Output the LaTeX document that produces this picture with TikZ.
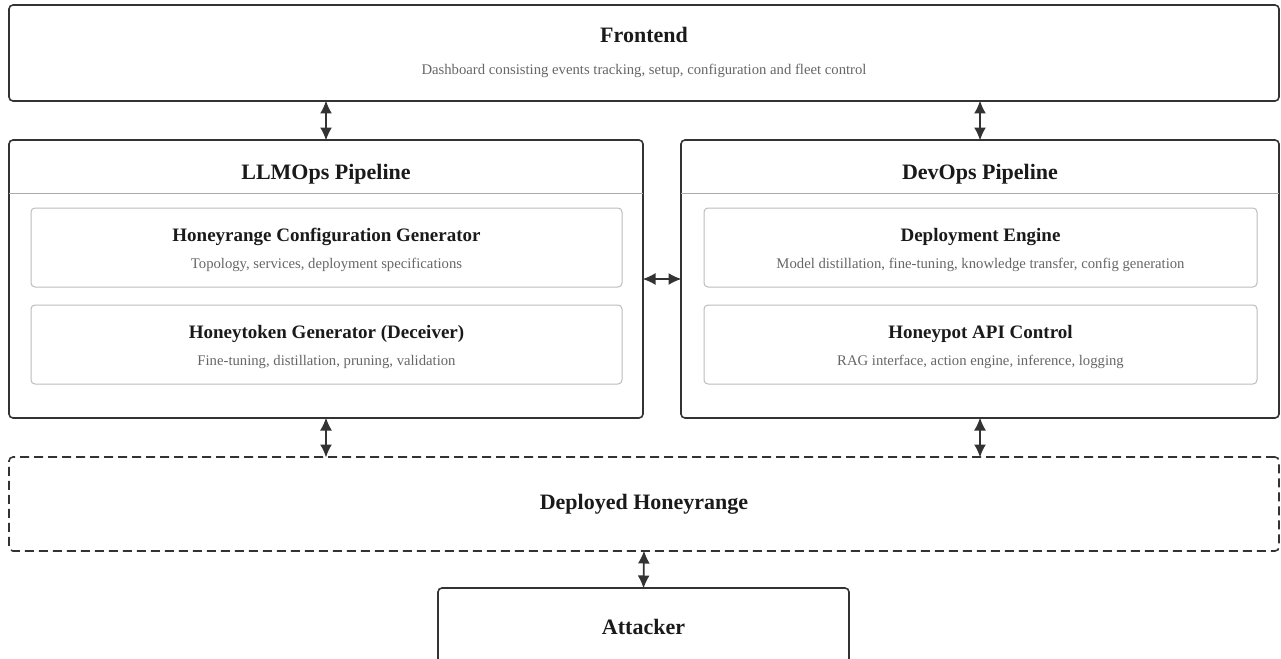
\documentclass[tikz,border=0pt]{standalone}
\usepackage{fontspec}
\setmainfont{Liberation Serif}
\usetikzlibrary{arrows.meta}
\definecolor{edge}{HTML}{333333}
\definecolor{inner}{HTML}{BBBBBB}
\definecolor{sep}{HTML}{AAAAAA}
\definecolor{ttl}{HTML}{1A1A1A}
\definecolor{sub}{HTML}{666666}
\tikzset{
  outerbox/.style={draw=edge, line width=1.6pt, rounded corners=4pt, inner sep=0pt, outer sep=0pt},
  innerbox/.style={draw=inner, line width=1pt, rounded corners=4pt, inner sep=0pt, outer sep=0pt, minimum width=591pt, minimum height=79pt},
  bigtitle/.style={font=\fontsize{22}{26}\selectfont\bfseries, text=ttl, inner sep=0pt},
  midtitle/.style={font=\fontsize{19}{23}\selectfont\bfseries, text=ttl, inner sep=0pt},
  subtext/.style={font=\fontsize{14.7}{18}\selectfont, text=sub, inner sep=0pt},
  biarrow/.style={draw=edge, line width=1.8pt, {Latex[length=13pt,width=12pt]}-{Latex[length=13pt,width=12pt]}, shorten <=-0.5pt, shorten >=-0.5pt}
}
\begin{document}
\begin{tikzpicture}[x=1pt,y=-1pt]
\useasboundingbox (0,0) rectangle (1281,658);
\begin{scope}
\clip (0,0) rectangle (1281,658);
% boxes
\node[outerbox, minimum width=1270pt, minimum height=96pt] (front) at (644,53) {};
\node[outerbox, minimum width=634pt, minimum height=278pt] (llm) at (326,279) {};
\node[outerbox, minimum width=598pt, minimum height=278pt] (dev) at (980,279) {};
\node[outerbox, dashed, dash pattern=on 9pt off 5pt, minimum width=1270pt, minimum height=94pt] (dh) at (644,504) {};
\node[outerbox, minimum width=411pt, minimum height=78pt] (att) at (643.5,627) {};
% header separators
\draw[sep, line width=1pt] (llm.west |- 0,193) -- (llm.east |- 0,193);
\draw[sep, line width=1pt] (dev.west |- 0,193) -- (dev.east |- 0,193);
% inner boxes
\node[innerbox] (hcg) at (326.5,247.5) {};
\node[innerbox] (htg) at (326.5,344.5) {};
\node[innerbox, minimum width=553pt] (de) at (980.5,247.5) {};
\node[innerbox, minimum width=553pt] (hac) at (980.5,344.5) {};
\end{scope}
% texts
\node[bigtitle] (tfront) at (644,35) {Frontend};
\node[subtext] (sfront) at (644,71) {Dashboard consisting events tracking, setup, configuration and fleet control};
\node[bigtitle] (tllm) at (326,174) {LLMOps Pipeline};
\node[bigtitle] (tdev) at (980,174) {DevOps Pipeline};
\node[midtitle] (thcg) at (326.5,237) {Honeyrange Configuration Generator};
\node[subtext] (shcg) at (326.5,265) {Topology, services, deployment specifications};
\node[midtitle] (thtg) at (326.5,334) {Honeytoken Generator (Deceiver)};
\node[subtext] (shtg) at (326.5,362) {Fine-tuning, distillation, pruning, validation};
\node[midtitle] (tde) at (980.5,237) {Deployment Engine};
\node[subtext] (sde) at (980.5,265) {Model distillation, fine-tuning, knowledge transfer, config generation};
\node[midtitle] (thac) at (980.5,334) {Honeypot API Control};
\node[subtext] (shac) at (980.5,362) {RAG interface, action engine, inference, logging};
\node[bigtitle] (tdh) at (644,504) {Deployed Honeyrange};
\node[bigtitle] (tatt) at (643.5,627) {Attacker};
% connectors
\draw[biarrow] (llm.north |- front.south) -- (llm.north);
\draw[biarrow] (dev.north |- front.south) -- (dev.north);
\draw[biarrow] (llm.east) -- (dev.west);
\draw[biarrow] (llm.south) -- (llm.south |- dh.north);
\draw[biarrow] (dev.south) -- (dev.south |- dh.north);
\draw[biarrow] (dh.south) -- (att.north);
\end{tikzpicture}
\end{document}
